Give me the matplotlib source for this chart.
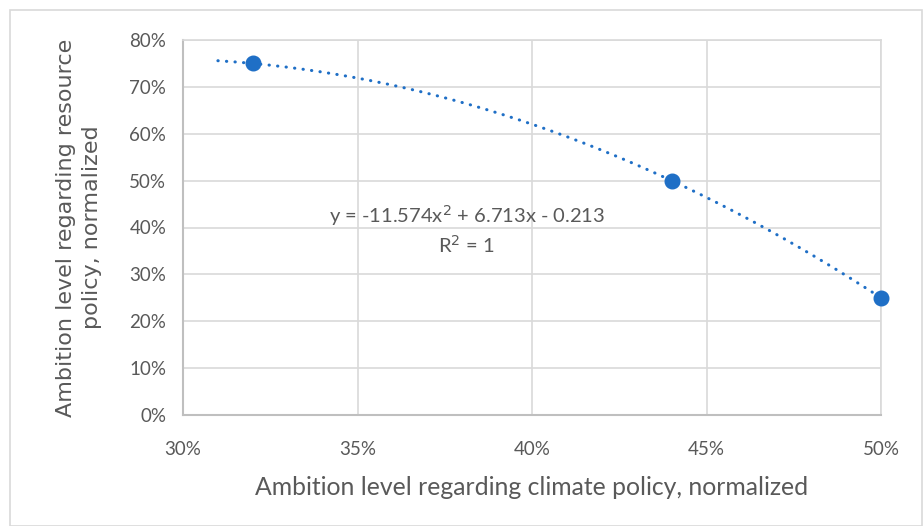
import matplotlib
matplotlib.use("Agg")
import matplotlib.pyplot as plt
import numpy as np
from matplotlib.patches import Rectangle
from matplotlib.ticker import PercentFormatter

# data
climate = [0.32, 0.44, 0.50]
resource = [0.75, 0.50, 0.25]
x_ticks = [0.30, 0.35, 0.40, 0.45, 0.50]
y_ticks = [0.0, 0.1, 0.2, 0.3, 0.4, 0.5, 0.6, 0.7, 0.8]
trend_start = 0.31

blue = "#1f6fc6"
grey_text = "#595959"
grid_grey = "#d9d9d9"

plt.rcParams["font.family"] = ["Lato", "DejaVu Sans"]

fig = plt.figure(figsize=(9.23, 5.26), dpi=100)
ax = fig.add_axes([183 / 923, 111 / 526, 698 / 923, 375 / 526])

# quadratic trendline through the points
coef = np.polyfit(climate, resource, 2)
xs = np.linspace(trend_start, max(climate), 200)
ax.plot(xs, np.polyval(coef, xs), color=blue, lw=2.2,
        linestyle=(0, (0.1, 2.7)), dash_capstyle="round", zorder=3)
ax.plot(climate, resource, "o", color=blue, ms=10.5, zorder=4, clip_on=False)

eq = f"y = {coef[0]:.3f}x$^2$ + {coef[1]:.3f}x - {abs(coef[2]):.3f}\nR$^2$ = 1"
ax.text(0.3813, 0.452, eq, ha="center", va="top", fontsize=14.5,
        color=grey_text, linespacing=1.32)

ax.set_xlim(0.30, 0.50)
ax.set_ylim(0.0, 0.80)
ax.set_xticks(x_ticks)
ax.set_yticks(y_ticks)
ax.xaxis.set_major_formatter(PercentFormatter(1.0, decimals=0))
ax.yaxis.set_major_formatter(PercentFormatter(1.0, decimals=0))
ax.tick_params(length=0, labelsize=13.5, labelcolor=grey_text)
ax.tick_params(axis="x", pad=19)
ax.tick_params(axis="y", pad=12)
ax.grid(True, color=grid_grey, lw=1.2)
ax.set_axisbelow(True)
for side in ["top", "right"]:
    ax.spines[side].set_color(grid_grey)
    ax.spines[side].set_linewidth(1.2)
for side in ["left", "bottom"]:
    ax.spines[side].set_color("#bfbfbf")
    ax.spines[side].set_linewidth(1.5)

ax.set_xlabel("Ambition level regarding climate policy, normalized",
              fontsize=17.8, color=grey_text, labelpad=13)
ax.set_ylabel("Ambition level regarding resource\npolicy, normalized",
              fontsize=16, color=grey_text, labelpad=20,
              family=["DejaVu Sans"], linespacing=1.35)

fig.patches.append(Rectangle((10 / 923, 0), 912 / 923, 516 / 526,
                             transform=fig.transFigure, fill=False,
                             edgecolor=grid_grey, lw=1.2))

fig.savefig("out.png", dpi=100)
